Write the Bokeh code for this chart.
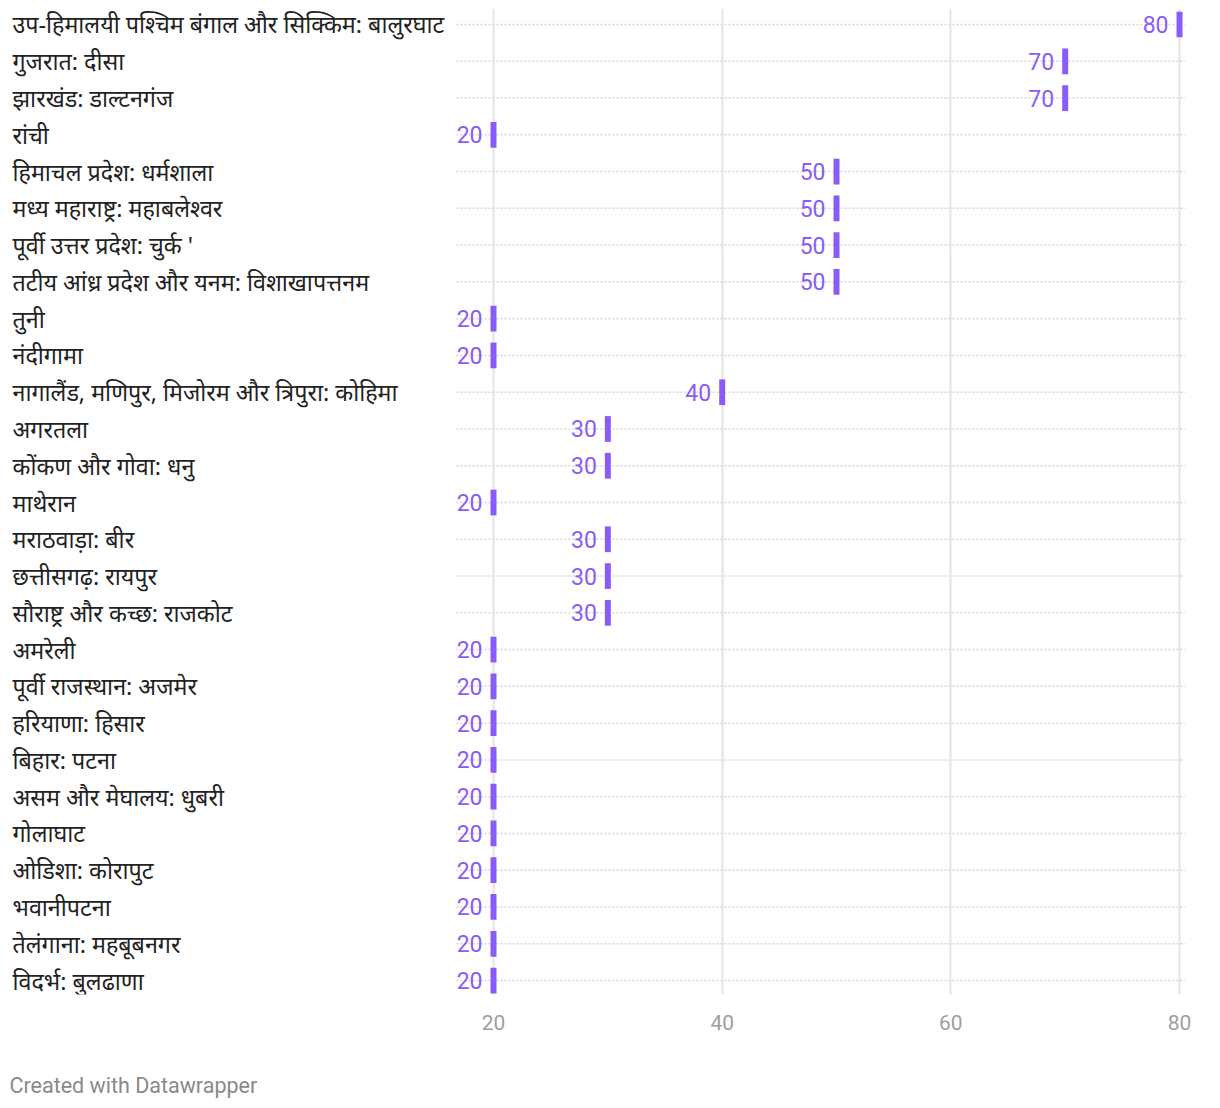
from bokeh.plotting import figure
from bokeh.layouts import column
from bokeh.models import ColumnDataSource, Range1d, FixedTicker, Label
from bokeh.core.properties import value
from bokeh.embed import file_html
from bokeh.resources import INLINE

labels = [
    "उप-हिमालयी पश्चिम बंगाल और सिक्किम: बालुरघाट",
    "गुजरात: दीसा",
    "झारखंड: डाल्टनगंज",
    "रांची",
    "हिमाचल प्रदेश: धर्मशाला",
    "मध्य महाराष्ट्र: महाबलेश्वर",
    "पूर्वी उत्तर प्रदेश: चुर्क '",
    "तटीय आंध्र प्रदेश और यनम: विशाखापत्तनम",
    "तुनी",
    "नंदीगामा",
    "नागालैंड, मणिपुर, मिजोरम और त्रिपुरा: कोहिमा",
    "अगरतला",
    "कोंकण और गोवा: धनु",
    "माथेरान",
    "मराठवाड़ा: बीर",
    "छत्तीसगढ़: रायपुर",
    "सौराष्ट्र और कच्छ: राजकोट",
    "अमरेली",
    "पूर्वी राजस्थान: अजमेर",
    "हरियाणा: हिसार",
    "बिहार: पटना",
    "असम और मेघालय: धुबरी",
    "गोलाघाट",
    "ओडिशा: कोरापुट",
    "भवानीपटना",
    "तेलंगाना: महबूबनगर",
    "विदर्भ: बुलढाणा",
]
values = [80, 70, 70, 20, 50, 50, 50, 50, 20, 20, 40, 30, 30, 20, 30, 30, 30,
          20, 20, 20, 20, 20, 20, 20, 20, 20, 20]
x_ticks = [20, 40, 60, 80]
footer_text = "Created with Datawrapper"

PURPLE = "#8a5cf7"
X_START, X_END = -22.42, 80.96
LINE_START, LINE_END = 16.76, 80.5

rows = list(range(len(labels)))
src = ColumnDataSource(dict(
    y=rows, v=values, lab=labels, vtxt=[str(v) for v in values],
    x0=[X_START] * len(rows), l0=[LINE_START] * len(rows), l1=[LINE_END] * len(rows),
))

p = figure(width=1212, height=1040, output_backend="svg", toolbar_location=None,
           x_range=Range1d(X_START, X_END), y_range=Range1d(26.38, -0.435),
           y_axis_location=None, min_border_left=8, min_border_right=22,
           min_border_top=8, min_border_bottom=46)
p.outline_line_color = None
p.background_fill_color = "white"
p.border_fill_color = "white"

p.ygrid.visible = False
p.xgrid.ticker = FixedTicker(ticks=x_ticks)
p.xgrid.grid_line_color = "#e4e4e4"
p.xgrid.grid_line_width = 2

ax = p.xaxis[0]
ax.ticker = FixedTicker(ticks=x_ticks)
ax.axis_line_color = None
ax.major_tick_line_color = None
ax.minor_tick_line_color = None
ax.major_label_text_font = "Roboto"
ax.major_label_text_font_size = "21px"
ax.major_label_text_color = "#9e9e9e"
ax.major_label_standoff = 14

p.segment(x0="l0", x1="l1", y0="y", y1="y", source=src, line_color="#d6d6d6",
          line_width=1.5, line_dash="2 2")

p.rect(x="v", y="y", width=6, width_units="screen", height=0.7, source=src,
       fill_color=PURPLE, line_color=None)

p.text(x="v", y="y", text="vtxt", source=src, x_offset=-11, text_align="right",
       text_baseline="middle", text_color=PURPLE, text_font=value("Roboto"),
       text_font_size="23px")

p.text(x="x0", y="y", text="lab", source=src, x_offset=4, text_align="left",
       text_baseline="middle", text_color="#222222", text_font=value("Noto Sans"),
       text_font_size="23.3px")

# footer strip
f = figure(width=1212, height=68, output_backend="svg", toolbar_location=None,
           x_range=Range1d(0, 1212), y_range=Range1d(0, 68),
           x_axis_location=None, y_axis_location=None,
           min_border_left=0, min_border_right=0, min_border_top=0, min_border_bottom=0)
f.outline_line_color = None
f.xgrid.visible = False
f.ygrid.visible = False
f.add_layout(Label(x=1, y=23, text=footer_text, text_font="Roboto",
                   text_font_size="21.5px", text_color="#8a8a8a",
                   text_align="left", text_baseline="middle"))

open("out.html", "w").write(file_html(column(p, f, spacing=0), INLINE))
